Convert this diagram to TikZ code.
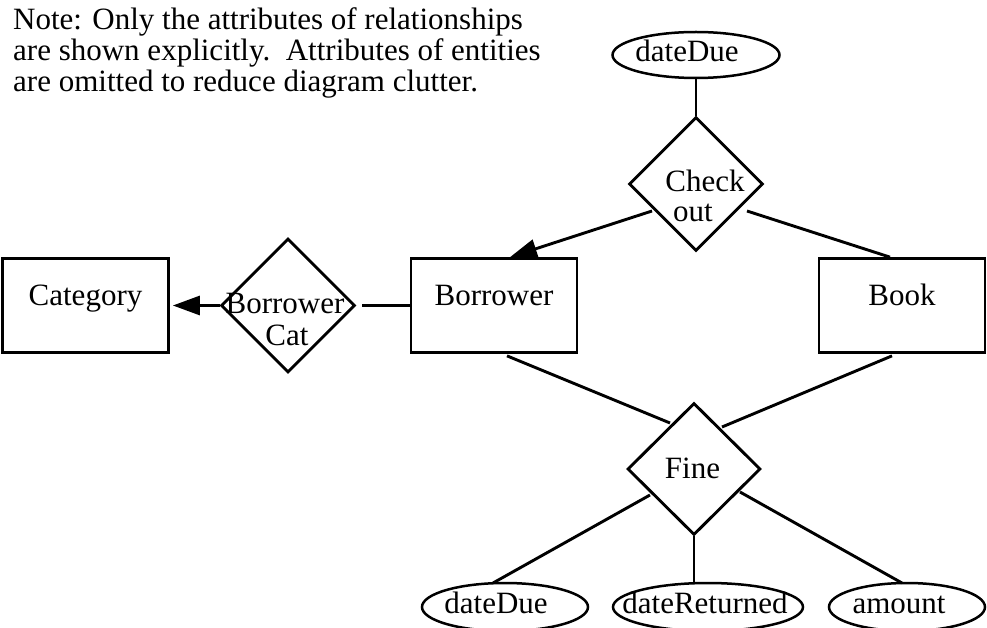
\documentclass[tikz,border=0pt]{standalone}
\usepackage{fontspec}
\setmainfont{Liberation Serif}
\usetikzlibrary{shapes.geometric,arrows.meta,calc}
\begin{document}
\begin{tikzpicture}[x=1pt,y=-1pt,
  every node/.style={font=\fontsize{31pt}{31pt}\selectfont},
  entity/.style={draw,line width=2.7pt,rectangle,inner sep=0pt,
    minimum width=166pt,minimum height=94pt,text height=14pt,text depth=14pt},
  rel/.style={draw,line width=2.9pt,diamond,inner sep=0pt,shape aspect=1},
  attr/.style={draw,line width=2.5pt,ellipse,inner sep=0pt},
  txt/.style={anchor=base,inner sep=0pt},
  notetxt/.style={anchor=base west,inner sep=0pt},
  link/.style={line width=2.9pt},
  tip/.style={-{Triangle[length=27pt,width=19pt]}}
]
\useasboundingbox (0,0) rectangle (987,628);

% explanatory note
\node[notetxt] (note1) at (13,30) {Note: Only the attributes of relationships};
\node[notetxt] (note2) at (13,61) {are shown explicitly.\ \ Attributes of entities};
\node[notetxt] (note3) at (13,92) {are omitted to reduce diagram clutter.};

% entities
\node[entity] (cat)  at (85.5,305.5) {Category};
\node[entity] (bor)  at (494,305.5)  {Borrower};
\node[entity] (book) at (902,305.5)  {Book};

% relationships
\node[rel,minimum width=134pt,minimum height=134pt] (co)   at (696,184)   {};
\node[rel,minimum width=134pt,minimum height=134pt] (bc)   at (288,305.5) {};
\node[rel,minimum width=133pt,minimum height=132pt] (fine) at (694,469)   {};
\node[txt] (coA)   at (705,192) {Check};
\node[txt] (coB)   at (693,222) {out};
\node[txt] (bcA)   at (285,313) {Borrower};
\node[txt] (bcB)   at (287,345) {Cat};
\node[txt] (fineA) at (692.5,478) {Fine};

% relationship attributes
\node[attr,minimum width=167pt,minimum height=46pt] (due1) at (696,55)  {};
\node[attr,minimum width=166pt,minimum height=48pt] (due2) at (505,607) {};
\node[attr,minimum width=190pt,minimum height=48pt] (ret)  at (708,607) {};
\node[attr,minimum width=156pt,minimum height=48pt] (amt)  at (907,607) {};
\node[txt] (due1t) at (687,62)  {dateDue};
\node[txt] (due2t) at (496,613) {dateDue};
\node[txt] (rett)  at (705,613) {dateReturned};
\node[txt] (amtt)  at (899,613) {amount};

% connectors
\draw[link] (due1) -- (co);
\draw[link,tip] ($(co.center)+(-44,27)$) -- ($(bor.north)+(16,0)$);
\draw[link] ($(co.center)+(51,27)$) -- ($(book.north)+(-12,0)$);
\draw[link,tip] (bc.west) -- ([xshift=3pt]cat.east);
\draw[link] ([xshift=6pt]bc.east) -- (bor.west);
\draw[link] ($(bor.south)+(13,2)$) -- ($(fine.center)+(-24,-46)$);
\draw[link] ($(book.south)+(-10,2)$) -- ($(fine.center)+(28,-42)$);
\draw[link] ($(fine.center)+(-44,26)$) -- ($(due2.center)+(-12,-24)$);
\draw[link] (fine.south) -- (fine.south |- ret.north);
\draw[link] ($(fine.center)+(46,23)$) -- ($(amt.center)+(-5,-24)$);
\end{tikzpicture}
\end{document}
